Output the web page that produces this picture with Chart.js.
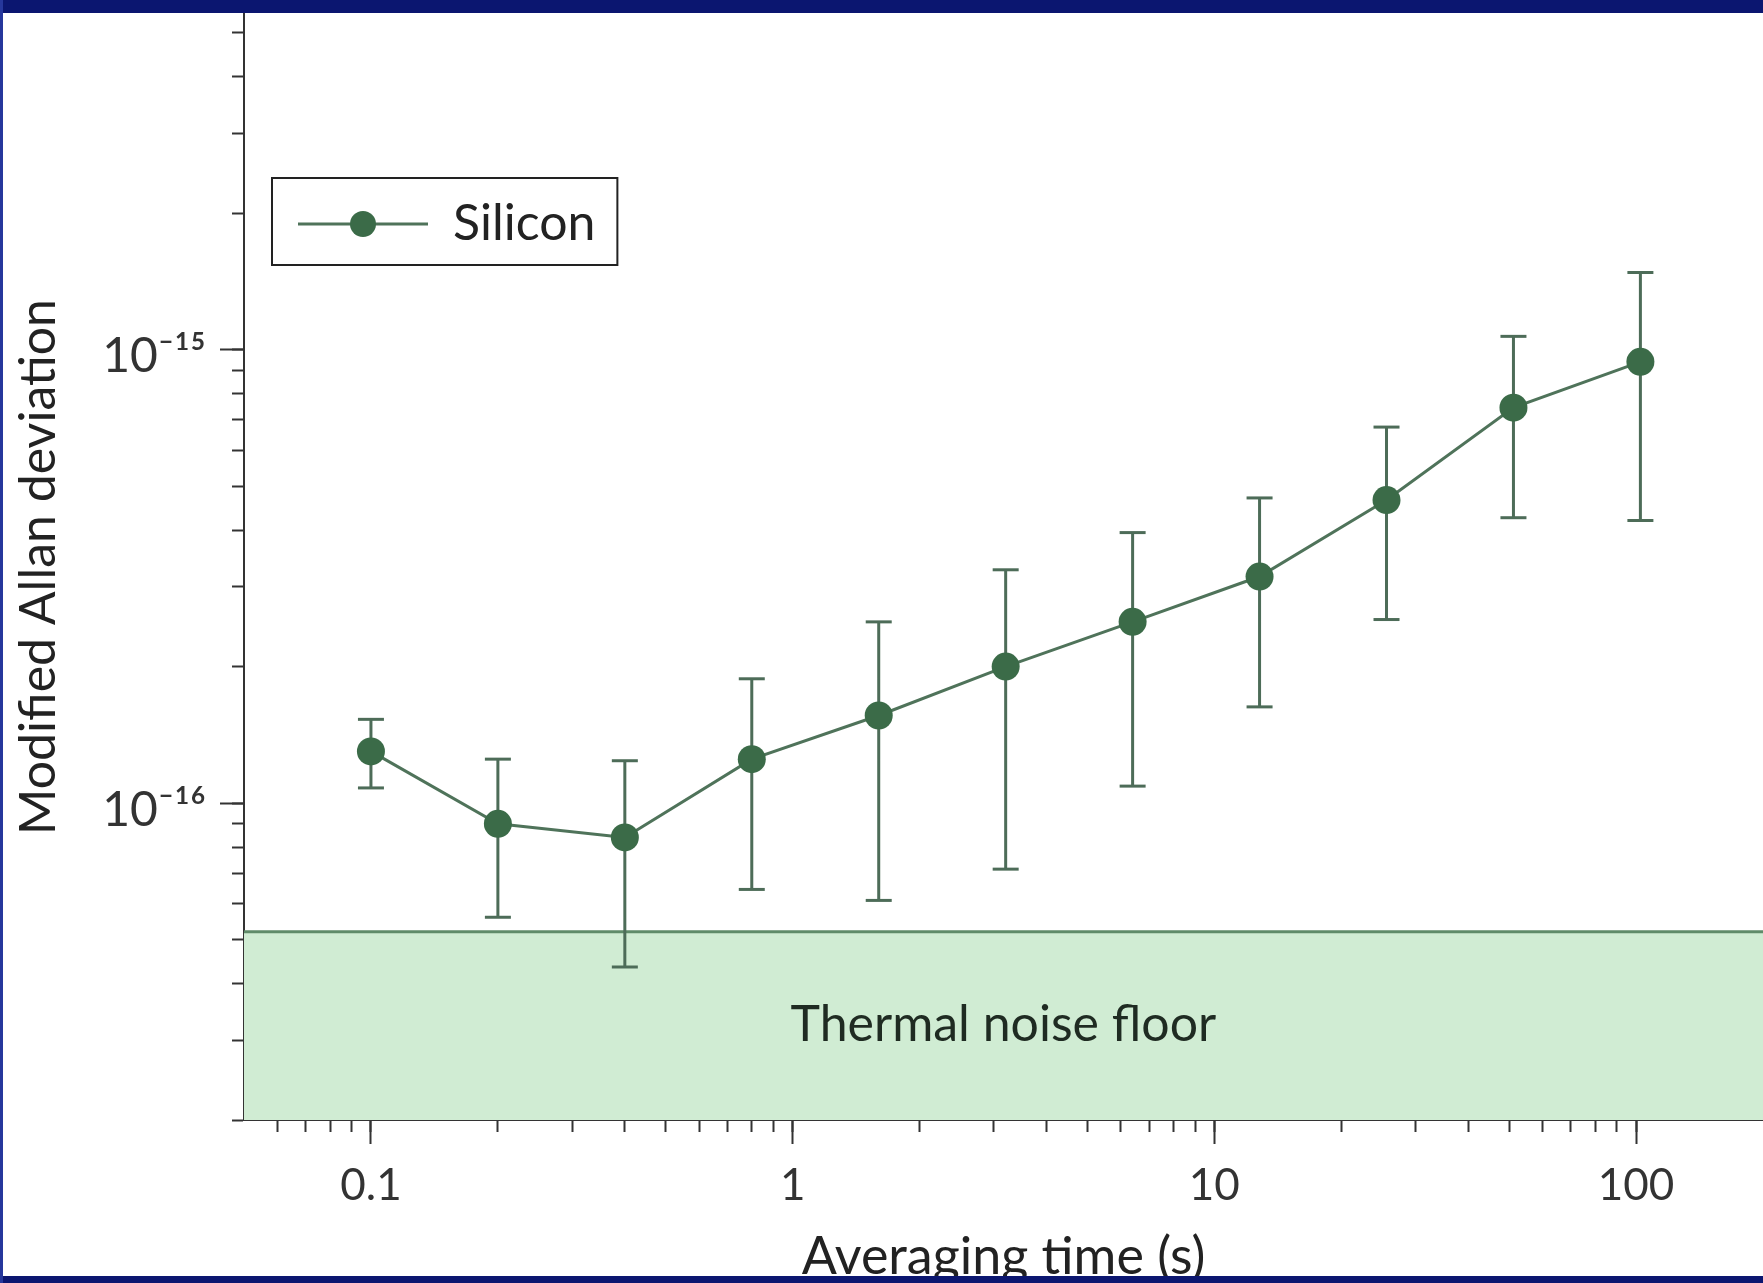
<!doctype html>
<meta charset="utf-8">
<style>
    html, body { margin: 0; padding: 0; background: #fff; }
    #wrap { position: relative; width: 1763px; height: 1283px; }
</style>

<div id="wrap"><canvas id="chart"></canvas></div>

<script src="https://cdn.jsdelivr.net/npm/chart.js@4.4.1/dist/chart.umd.min.js"></script>
<script>
    // averaging time (s) and modified Allan deviation
    const tau = [0.1, 0.2, 0.4, 0.8, 1.6, 3.2, 6.4, 12.8, 25.6, 51.2, 102.4];
    const adev = [1.30e-16, 9.0e-17, 8.4e-17, 1.25e-16, 1.56e-16, 2.0e-16, 2.51e-16, 3.16e-16, 4.66e-16, 7.45e-16, 9.4e-16];
    const adevHigh = [1.53e-16, 1.25e-16, 1.24e-16, 1.88e-16, 2.51e-16, 3.27e-16, 3.95e-16, 4.71e-16, 6.75e-16, 1.07e-15, 1.48e-15];
    const adevLow = [1.08e-16, 5.6e-17, 4.35e-17, 6.45e-17, 6.1e-17, 7.15e-17, 1.09e-16, 1.63e-16, 2.54e-16, 4.26e-16, 4.2e-16];

    const thermalFloor = 5.2e-17;
    const floorNote = "Thermal noise floor";
    const floorNoteAt = [3.16, 3.24e-17];

    const xRange = [0.05, 200];
    const yRange = [2e-17, 5.5e-15];

    const xMajorTicks = [0.1, 1, 10, 100];
    const xTickLabels = ["0.1", "1", "10", "100"];
    const xMinorTicks = [0.06, 0.07, 0.08, 0.09, 0.2, 0.3, 0.4, 0.5, 0.6, 0.7, 0.8, 0.9,
        2, 3, 4, 5, 6, 7, 8, 9, 20, 30, 40, 50, 60, 70, 80, 90];
    const yMajorTicks = [1e-16, 1e-15];
    const yTickLabels = ["10\u207B\u00B9\u2076", "10\u207B\u00B9\u2075"];
    const yMinorTicks = [2e-17, 3e-17, 4e-17, 5e-17, 6e-17, 7e-17, 8e-17, 9e-17,
        2e-16, 3e-16, 4e-16, 5e-16, 6e-16, 7e-16, 8e-16, 9e-16,
        2e-15, 3e-15, 4e-15, 5e-15];

    const lineGreen = "#4f735a";
    const dotGreen = "#3b6b48";
    const axisGrey = "#333";

    Chart.defaults.font.family = "Lato, 'Open Sans', sans-serif";
    Chart.defaults.color = "#333";

    const sameValue = (a, b) => Math.abs(a - b) < Math.abs(b) * 1e-6;
    const labelFor = (majors, labels) => (value) => {
        const k = majors.findIndex(v => sameValue(value, v));
        return k < 0 ? "" : labels[k];
    };
    const setTicks = (list) => (scale) => {
        scale.ticks = [...list].sort((a, b) => a - b).map(v => ({value: v}));
    };

    // legend sample: line with a dot through it
    const legendIcon = document.createElement("canvas");
    legendIcon.width = 130;
    legendIcon.height = 30;
    {
        const g = legendIcon.getContext("2d");
        g.strokeStyle = lineGreen;
        g.lineWidth = 3;
        g.beginPath();
        g.moveTo(0, 15);
        g.lineTo(130, 15);
        g.stroke();
        g.fillStyle = dotGreen;
        g.beginPath();
        g.arc(65, 15, 13, 0, Math.PI * 2);
        g.fill();
    }

    const errorPoints = [];
    tau.forEach((t, i) => {
        errorPoints.push({x: t, y: adevLow[i]}, {x: t, y: adevHigh[i]}, {x: t, y: null});
    });

    const floorNotePlugin = {
        id: "floorNote",
        afterDatasetsDraw(chart) {
            const {ctx, scales: {x, y}} = chart;
            ctx.save();
            ctx.font = "50px Lato, 'Open Sans', sans-serif";
            ctx.fillStyle = "#1f2b22";
            ctx.textAlign = "center";
            ctx.textBaseline = "middle";
            ctx.fillText(floorNote, x.getPixelForValue(floorNoteAt[0]), y.getPixelForValue(floorNoteAt[1]));
            ctx.restore();
        }
    };

    const legendBoxPlugin = {
        id: "legendBox",
        afterDraw(chart) {
            const hb = chart.legend && chart.legend.legendHitBoxes[0];
            if (!hb) return;
            const ctx = chart.ctx;
            ctx.save();
            ctx.strokeStyle = "#222";
            ctx.lineWidth = 2;
            ctx.strokeRect(hb.left - 26, hb.top - 21, hb.width + 48, hb.height + 37);
            ctx.restore();
        }
    };

    const framePlugin = {
        id: "frame",
        afterDraw(chart) {
            const {ctx, width, height} = chart;
            ctx.save();
            ctx.fillStyle = "#0b1670";
            ctx.fillRect(0, 0, width, 13);
            ctx.fillRect(0, height - 7, width, 7);
            ctx.fillStyle = "#26379c";
            ctx.fillRect(0, 0, 3, height);
            ctx.restore();
        }
    };

    new Chart(document.getElementById("chart"), {
        type: "line",
        plugins: [floorNotePlugin, legendBoxPlugin, framePlugin],
        data: {
            datasets: [{
                label: "Silicon",
                order: 0,
                data: tau.map((t, i) => ({x: t, y: adev[i]})),
                borderColor: lineGreen,
                borderWidth: 3,
                backgroundColor: dotGreen,
                pointBackgroundColor: dotGreen,
                pointBorderWidth: 0,
                pointRadius: 14,
                pointHoverRadius: 14,
                tension: 0
            }, {
                label: "errors",
                order: 1,
                data: errorPoints,
                spanGaps: false,
                borderColor: "#4d6c58",
                borderWidth: 3,
                pointStyle: "line",
                pointRadius: 13,
                pointHoverRadius: 13,
                pointBorderColor: "#4d6c58",
                pointBorderWidth: 3
            }, {
                label: "floor",
                order: 2,
                data: [{x: xRange[0], y: thermalFloor}, {x: xRange[1], y: thermalFloor}],
                borderColor: "#5f8b69",
                borderWidth: 3,
                backgroundColor: "#d0ecd3",
                fill: "start",
                pointRadius: 0
            }]
        },
        options: {
            responsive: true,
            maintainAspectRatio: false,
            animation: false,
            layout: {autoPadding: false, padding: {top: 14, right: 0, bottom: 0, left: 0}},
            scales: {
                x: {
                    type: "logarithmic",
                    min: xRange[0],
                    max: xRange[1],
                    afterBuildTicks: setTicks([...xMinorTicks, ...xMajorTicks]),
                    afterFit(scale) {
                        scale.height = 163;
                        scale.paddingLeft = 0;
                        scale.paddingRight = 0;
                    },
                    ticks: {
                        callback: labelFor(xMajorTicks, xTickLabels),
                        autoSkip: false,
                        maxRotation: 0,
                        padding: 27,
                        color: "#333",
                        font: {size: 44}
                    },
                    grid: {drawOnChartArea: false, tickLength: 12, tickWidth: 2, tickColor: axisGrey},
                    border: {color: axisGrey, width: 2},
                    title: {
                        display: true,
                        text: "Averaging time (s)",
                        color: "#222",
                        font: {size: 52, lineHeight: 1.0},
                        padding: {top: 0, bottom: 0}
                    }
                },
                y: {
                    type: "logarithmic",
                    min: yRange[0],
                    max: yRange[1],
                    afterBuildTicks: setTicks([...yMinorTicks, ...yMajorTicks]),
                    afterFit(scale) {
                        scale.width = 244;
                        scale.paddingTop = 0;
                        scale.paddingBottom = 0;
                    },
                    ticks: {
                        callback: labelFor(yMajorTicks, yTickLabels),
                        autoSkip: false,
                        padding: 26,
                        labelOffset: 7,
                        color: "#333",
                        font: {size: 48}
                    },
                    grid: {drawOnChartArea: false, tickLength: 12, tickWidth: 2, tickColor: axisGrey},
                    border: {color: axisGrey, width: 2},
                    title: {
                        display: true,
                        text: "Modified Allan deviation",
                        color: "#222",
                        font: {size: 50},
                        padding: {top: 9, bottom: 0}
                    }
                },
                // long marks at the decades
                xMajor: {
                    type: "logarithmic",
                    axis: "x",
                    position: {y: yRange[0]},
                    min: xRange[0],
                    max: xRange[1],
                    afterBuildTicks: setTicks(xMajorTicks),
                    ticks: {display: false},
                    grid: {drawOnChartArea: false, tickLength: 24, tickWidth: 2, tickColor: axisGrey},
                    border: {display: false}
                },
                yMajor: {
                    type: "logarithmic",
                    axis: "y",
                    position: {x: xRange[0]},
                    min: yRange[0],
                    max: yRange[1],
                    afterBuildTicks: setTicks(yMajorTicks),
                    ticks: {display: false},
                    grid: {drawOnChartArea: false, tickLength: 24, tickWidth: 2, tickColor: axisGrey},
                    border: {display: false}
                }
            },
            plugins: {
                tooltip: {enabled: false},
                legend: {
                    position: "chartArea",
                    align: "start",
                    title: {display: true, text: "", font: {size: 10, lineHeight: 1}, padding: {top: 0, bottom: 135}},
                    labels: {
                        padding: 54,
                        color: "#222",
                        font: {size: 50},
                        usePointStyle: true,
                        pointStyleWidth: 130,
                        boxHeight: 50,
                        generateLabels(chart) {
                            return Chart.defaults.plugins.legend.labels.generateLabels(chart)
                                .filter(item => item.text === "Silicon")
                                .map(item => Object.assign(item, {pointStyle: legendIcon}));
                        }
                    }
                }
            }
        }
    });
</script>
